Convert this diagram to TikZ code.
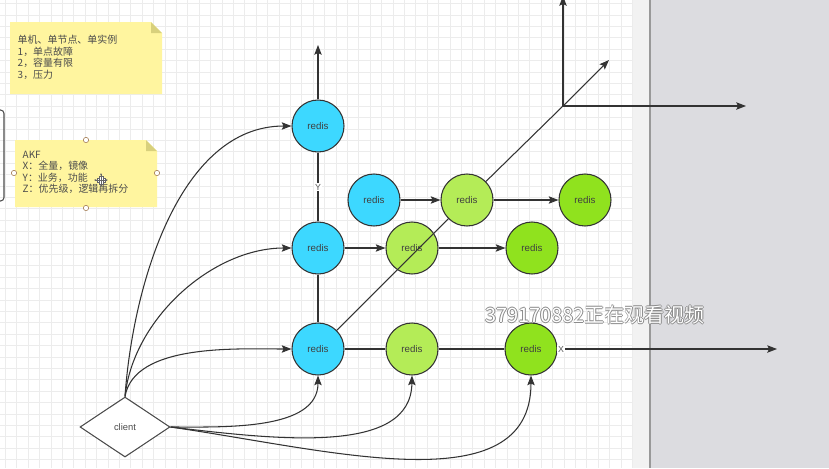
\documentclass[tikz,border=0pt]{standalone}
\usepackage{fontspec}
\setmainfont{Liberation Sans}
\newfontfamily\cjk{Noto Sans CJK SC}
\usepackage{tikz}
\usetikzlibrary{arrows.meta,shapes.geometric}

\definecolor{redisblue}{HTML}{3DD8FF}
\definecolor{redislight}{HTML}{B4EC57}
\definecolor{redisdark}{HTML}{90E21E}
\definecolor{notefill}{HTML}{FFF59F}
\definecolor{notefold}{HTML}{D8D07C}
\definecolor{edgegray}{HTML}{333333}
\definecolor{gridgray}{HTML}{ECECEC}
\definecolor{panelgray}{HTML}{DCDCE0}

\tikzset{
    redis/.style={circle, draw=edgegray, line width=0.9pt, minimum size=1.56cm,
        inner sep=0pt, font=\fontsize{8.3}{9}\selectfont, text=black!75},
    conn/.style={draw=edgegray, line width=0.9pt},
    arr/.style={conn, -{Stealth[length=2.9mm,width=2.2mm,inset=0.5mm]}},
    notetext/.style={anchor=north west, inner sep=0pt, align=left, text=black!70,
        font=\cjk\fontsize{8.5}{9.8}\selectfont},
    handle/.style={circle, draw=brown!60!gray, fill=white, line width=0.5pt,
        minimum size=0.16cm, inner sep=0pt},
    axislabel/.style={fill=white, inner sep=0.6pt, text=black!65,
        font=\fontsize{7.5}{8}\selectfont}
}

\begin{document}
\begin{tikzpicture}[x=0.03cm, y=-0.03cm]
    \useasboundingbox (0,0) rectangle (829,468);
    \clip (0,0) rectangle (829,468);

    % Canvas background and grid
    \fill[white] (0,0) rectangle (633,468);
    \foreach \gx in {5.2,16.6,...,633} {
        \draw[gridgray, line width=0.4pt] (\gx,0) -- (\gx,468);
    }
    \foreach \gy in {3.5,14.9,...,468} {
        \draw[gridgray, line width=0.4pt] (0,\gy) -- (633,\gy);
    }

    % Right side panel
    \fill[black!5] (633,0) rectangle (650,468);
    \fill[panelgray] (650,0) rectangle (829,468);
    \draw[black!40, line width=1.4pt] (650,0) -- (650,468);

    % Partly hidden shape at the left edge
    \draw[black!70, line width=0.9pt, rounded corners=3] (-6,110) -- (4,110) -- (4,201) -- (-6,201);

    % Note: single machine
    \fill[notefill] (10,22) -- (151,22) -- (162,33) -- (162,94) -- (10,94) -- cycle;
    \fill[notefold] (151,22) -- (162,33) -- (151,33) -- cycle;
    \node[notetext] (note1) at (17.5,35)
        {单机、单节点、单实例\\1，单点故障\\2，容量有限\\3，压力};

    % Note: AKF
    \fill[notefill] (15,140) -- (146,140) -- (157,151) -- (157,207) -- (15,207) -- cycle;
    \fill[notefold] (146,140) -- (157,151) -- (146,151) -- cycle;
    \node[notetext] (note2) at (22.5,150.5)
        {AKF\\X：全量，镜像\\Y：业务，功能\\Z：优先级，逻辑再拆分};
    \node[handle] (h1) at (86,140) {};
    \node[handle] (h2) at (14,173) {};
    \node[handle] (h3) at (157,173) {};
    \node[handle] (h4) at (86,208) {};
    % move cursor
    \begin{scope}[shift={(101,180)}]
        \draw[black!60, line width=0.5pt, fill=white] (-4,-2) rectangle (4,2);
        \draw[black!60, line width=0.5pt, fill=white] (-2,-4) rectangle (2,4);
        \draw[black!60, -{Stealth[length=2pt]}] (0,0) -- (-7,0);
        \draw[black!60, -{Stealth[length=2pt]}] (0,0) -- (7,0);
        \draw[black!60, -{Stealth[length=2pt]}] (0,0) -- (0,-7);
        \draw[black!60, -{Stealth[length=2pt]}] (0,0) -- (0,7);
    \end{scope}

    % Redis nodes
    \node[redis, fill=redisblue] (b1) at (318,126) {redis};
    \node[redis, fill=redisblue] (b2) at (318,248) {redis};
    \node[redis, fill=redisblue] (b3) at (318,349) {redis};
    \node[redis, fill=redisblue] (b4) at (374,200) {redis};
    \node[redis, fill=redislight] (g1) at (467,200) {redis};
    \node[redis, fill=redislight] (g2) at (412,248) {redis};
    \node[redis, fill=redislight] (g3) at (412,349) {redis};
    \node[redis, fill=redisdark] (d1) at (585,200) {redis};
    \node[redis, fill=redisdark] (d2) at (532,248) {redis};
    \node[redis, fill=redisdark] (d3) at (531,349) {redis};

    % Client
    \node[diamond, draw=black!70, line width=0.9pt, fill=white, minimum width=2.7cm,
        minimum height=1.8cm, inner sep=0pt, text=black!70,
        font=\fontsize{8}{9}\selectfont] (client) at (125,427) {client};

    % Axis end points
    \coordinate (yend) at (318,45);
    \coordinate (xend) at (777,349);
    \coordinate (origin) at (563,106);
    \coordinate (zend) at (563,-4);
    \coordinate (hend) at (746,106);
    \coordinate (dend) at (609,60);

    % Y direction
    \draw[arr] (b1) -- (yend);
    \draw[conn] (b1) -- node[axislabel] (ylabel) {Y} (b2);
    \draw[conn] (b2) -- (b3);

    % X direction
    \draw[conn] (b3) -- (g3);
    \draw[conn] (g3) -- (d3);
    \draw[arr] (d3) -- (xend);
    \node[axislabel] (xlabel) at (561,349) {X};
    \draw[arr] (b2) -- (g2);
    \draw[arr] (g2) -- (d2);
    \draw[arr] (b4) -- (g1);
    \draw[arr] (g1) -- (d1);

    % Diagonal and small axes
    \draw[conn] (b3) -- (g1);
    \draw[conn] (g1) -- (origin);
    \draw[arr] (origin) -- (dend);
    \draw[arr] (origin) -- (zend);
    \draw[arr] (origin) -- (hend);

    % Client connections
    \draw[arr] (client.north) to[out=86, in=180, looseness=0.9] (b1.west);
    \draw[arr] (client.north) to[out=84, in=180, looseness=0.9] (b2.west);
    \draw[arr] (client.north) to[out=80, in=180, looseness=0.8] (b3.west);
    \draw[arr] (client.east) to[out=0, in=-90, looseness=0.9] (b3.south);
    \draw[arr] (client.east) .. controls (280,440) and (411,455) .. (g3.south);
    \draw[arr] (client.east) .. controls (330,450) and (531,505) .. (d3.south);

    % Watermark
    \foreach \dx/\dy in {-0.8/0,0.8/0,0/-0.8,0/0.8} {
        \node[text=black!45, font=\cjk\fontsize{17}{18}\selectfont, inner sep=0pt]
            at (595+\dx,315+\dy) {379170882正在观看视频};
    }
    \node[text=white, font=\cjk\fontsize{17}{18}\selectfont, inner sep=0pt]
        (mark) at (595,315) {379170882正在观看视频};
\end{tikzpicture}
\end{document}
